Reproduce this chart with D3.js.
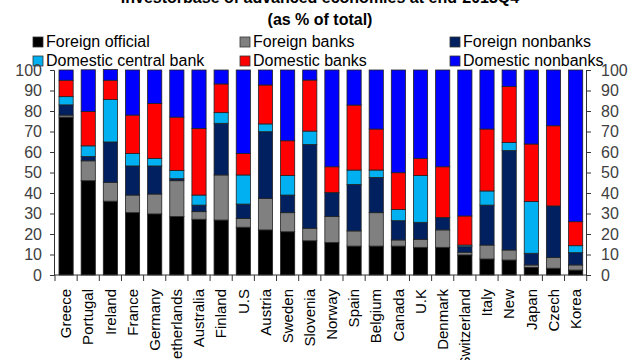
<!DOCTYPE html>
<html><head><meta charset="utf-8">
<script src="https://cdn.jsdelivr.net/npm/d3@7"></script>
<style>body{margin:0;background:#fff}svg{display:block}text{font-family:"Liberation Sans",Arial,sans-serif}</style>
</head><body><svg id="c" width="640" height="360"></svg>
<script>
const countries=["Greece","Portugal","Ireland","France","Germany","Netherlands","Australia","Finland","U.S","Austria","Sweden","Slovenia","Norway","Spain","Belgium","Canada","U.K","Denmark","Switzerland","Italy","New","Japan","Czech","Korea"];
const seriesNames=["Foreign official","Foreign banks","Foreign nonbanks","Domestic central bank","Domestic banks","Domestic nonbanks"];
const seriesColors=["#000000","#808080","#002060","#00B0F0","#FF0000","#0000FF"];
const foreignOfficial=[77,46,36,30.4,29.8,28.5,27.2,26.8,23.3,22,21.1,16.7,15.8,14.1,14.1,14.1,13.5,13.5,9.8,7.8,7.3,3.7,3.3,2.4];
const foreignBanks=[1,9.7,9.2,8.6,9.7,17.5,3.7,22,4.3,15.4,9.3,6.1,12.7,7.4,16.3,3,3.9,8.5,1.3,6.8,4.9,1.2,5.2,2.5];
const foreignNonbanks=[5,2.1,19.7,14.2,13.7,1,3.2,25.2,7,32.5,8.6,40.9,11.7,22.7,17.2,9.4,8.3,6.1,2.7,19.5,48.5,5.7,25.2,6];
const domesticCentralBank=[4,5.2,20.7,6.1,3.7,4,4.9,5.2,14.2,3.8,9.5,6.5,0,7,3.6,5.5,22.8,0,0.8,6.9,3.9,25.2,0,3.4];
const domesticBanks=[8,16.8,9.4,18.7,26.8,26,32.5,14,10.5,19,17,24.9,12.6,31.7,20,17.9,8.4,24.7,14.2,30.2,27.3,28.1,39.1,11.7];
const domesticNonbanks=[5,20.3,5.2,22,16.3,23,28.5,6.8,40.7,7.3,34.5,4.9,47.2,17.1,28.8,50.1,43.1,47.2,71.2,28.8,8.1,36.1,27.2,74];
const yTicks=[0,10,20,30,40,50,60,70,80,90,100];
const titleLines=["Investorbase of advanced economies at end-2013Q4","(as % of total)"];

const seriesData=[foreignOfficial,foreignBanks,foreignNonbanks,domesticCentralBank,domesticBanks,domesticNonbanks];
const rows=countries.map((c,i)=>{const o={country:c};seriesNames.forEach((s,j)=>o[s]=seriesData[j][i]);return o;});
const stack=d3.stack().keys(seriesNames)(rows);

const svg=d3.select("#c");
const L=54,R=586,T=70,B=275;
const x=d3.scaleBand().domain(countries).range([55,586.7]).paddingInner(0.36).paddingOuter(0.18);
const y=d3.scaleLinear().domain([0,100]).range([B,T]);

svg.append("g").selectAll("text").data(titleLines).join("text")
 .attr("x",320).attr("y",(d,i)=>3+i*22).attr("text-anchor","middle")
 .attr("font-size",16).attr("font-weight","bold").text(d=>d);

// legend
const legCols=[33,240,450];
const lg=svg.append("g").selectAll("g").data(seriesNames).join("g")
 .attr("transform",(d,i)=>`translate(${legCols[i%3]},${i<3?37:56})`);
lg.append("rect").attr("width",10).attr("height",10).attr("fill",(d,i)=>seriesColors[i]).attr("stroke","#333").attr("stroke-width",0.8);
lg.append("text").attr("x",13).attr("y",10).attr("font-size",16).attr("fill","#000").text(d=>d);

// bars
svg.append("g").selectAll("g").data(stack).join("g").attr("fill",(d,i)=>seriesColors[i])
 .selectAll("rect").data(d=>d).join("rect")
 .attr("x",d=>x(d.data.country)).attr("width",x.bandwidth())
 .attr("y",d=>y(d[1])).attr("height",d=>Math.max(0,y(d[0])-y(d[1])))
 .attr("stroke","#222").attr("stroke-width",0.8);

// y axes
const yl=svg.append("g").attr("transform",`translate(${L},0)`).call(d3.axisLeft(y).tickValues(yTicks).tickSize(4).tickPadding(8));
const yr=svg.append("g").attr("transform",`translate(${R},0)`).call(d3.axisRight(y).tickValues(yTicks).tickSize(5).tickPadding(10));
[yl,yr].forEach(g=>{g.select(".domain").attr("stroke","#333");g.selectAll(".tick line").attr("stroke","#333");
 g.selectAll("text").attr("font-size",16).attr("fill","#404040").attr("font-family","Liberation Sans, Arial, sans-serif");});

// x axis
const xa=svg.append("g").attr("transform",`translate(0,${B})`);
xa.append("line").attr("x1",L).attr("x2",R).attr("stroke","#333");
const step=x.step();
const bounds=d3.range(countries.length+1).map(i=>55+i*step);
xa.selectAll("line.t").data(bounds).join("line").attr("class","t")
 .attr("x1",d=>d).attr("x2",d=>d).attr("y1",0).attr("y2",6).attr("stroke","#333");
xa.selectAll("text").data(countries).join("text")
 .attr("transform",d=>`translate(${x(d)+x.bandwidth()/2},14) rotate(-90)`)
 .attr("text-anchor","end").attr("dy","0.35em").attr("font-size",15).attr("fill","#000").text(d=>d);
</script></body></html>
